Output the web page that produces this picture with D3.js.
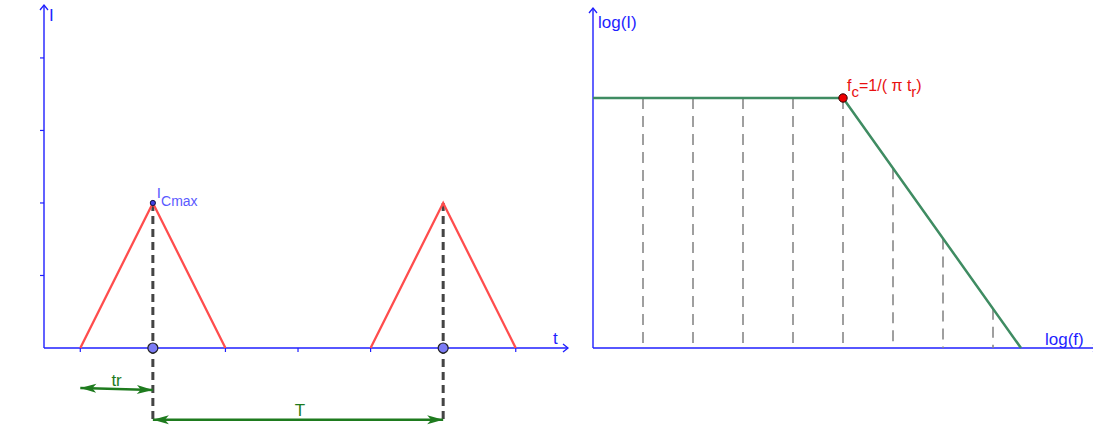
<!DOCTYPE html>
<html>
<head>
<meta charset="utf-8">
<script src="https://cdn.jsdelivr.net/npm/d3@7"></script>
<style>
  html, body { margin: 0; padding: 0; background: #fff; }
  svg { display: block; font-family: "Liberation Sans", Arial, sans-serif; }
</style>
</head>
<body>
<div id="chart"></div>
<script>
// --- data (left: time domain, units = tick spacing) ---
const pulseTimes = [0.5, 1.5, 2.5];          // rise start, peak, fall end
const pulseLevels = [0, 2, 0];
const pulseOffsets = [0, 4];                 // two pulses, period T = 4
const tTicks = [0.5, 1.5, 2.5, 3.5, 4.5, 5.5, 6.5];
const iTicks = [1, 2, 3, 4];
const peakMarks = [1.5, 5.5];                // dots on t axis under peaks
const trArrow = [[0.5, -0.55], [1.5, -0.58]];
const TArrow = [[1.5, -0.99], [5.5, -0.99]];

// --- data (right: spectrum, units = decades) ---
const specFlat = [[0, 5], [5, 5]];
const specRoll = [[5, 5], [8.56, 0]];
const decades = [1, 2, 3, 4, 5, 6, 7, 8];
const cornerDecade = 5;

const W = 1093, H = 433;
const svg = d3.select("#chart").append("svg").attr("width", W).attr("height", H);

const blue = "#1f1fff";
const green = "#1e7b1e";

function axisArrow(g, x, y, dir) {
  // open chevron arrow like the GeoGebra axes
  const p = dir === "up"
    ? `M${x - 4},${y + 5} L${x},${y} L${x + 4},${y + 5}`
    : `M${x - 5},${y - 4} L${x},${y} L${x - 5},${y + 4}`;
  g.append("path").attr("d", p).attr("fill", "none").attr("stroke", blue).attr("stroke-width", 1.3);
}

// filled arrow head with its tip at (x1,y1), pointing away from (x0,y0)
function head(g, x0, y0, x1, y1) {
  const a = Math.atan2(y1 - y0, x1 - x0);
  const L = 16, w = 4.5;
  const bx = x1 - L * Math.cos(a), by = y1 - L * Math.sin(a);
  const mx = x1 - (L - 4) * Math.cos(a), my = y1 - (L - 4) * Math.sin(a);
  const px = -Math.sin(a) * w, py = Math.cos(a) * w;
  g.append("path")
    .attr("d", `M${x1},${y1} L${bx + px},${by + py} L${mx},${my} L${bx - px},${by - py} Z`)
    .attr("fill", green);
}

// ================= LEFT CHART =================
const xL = d3.scaleLinear().domain([0, 7.22]).range([44, 568]);
const yL = d3.scaleLinear().domain([0, 4.73]).range([348, 5]);
const gL = svg.append("g");

// axes
gL.append("line").attr("x1", xL(0)).attr("x2", xL(7.22)).attr("y1", yL(0)).attr("y2", yL(0))
  .attr("stroke", blue).attr("stroke-width", 1.4);
gL.append("line").attr("x1", xL(0)).attr("x2", xL(0)).attr("y1", yL(0)).attr("y2", yL(4.73))
  .attr("stroke", blue).attr("stroke-width", 1.4);
axisArrow(gL, xL(7.22), yL(0), "right");
axisArrow(gL, xL(0), yL(4.73), "up");
gL.selectAll(".tt").data(tTicks).enter().append("line")
  .attr("x1", d => xL(d)).attr("x2", d => xL(d)).attr("y1", yL(0)).attr("y2", yL(0) + 4)
  .attr("stroke", blue).attr("stroke-width", 1.2);
gL.selectAll(".it").data(iTicks).enter().append("line")
  .attr("x1", xL(0) - 4).attr("x2", xL(0)).attr("y1", d => yL(d)).attr("y2", d => yL(d))
  .attr("stroke", blue).attr("stroke-width", 1.2);
gL.append("text").attr("x", xL(0) + 5).attr("y", 21).attr("fill", blue).attr("font-size", 17).text("I");
gL.append("text").attr("x", 553).attr("y", 344).attr("fill", blue).attr("font-size", 17).text("t");

// dashed verticals from peaks to T arrow
gL.selectAll(".pv").data(peakMarks).enter().append("line")
  .attr("x1", d => xL(d)).attr("x2", d => xL(d))
  .attr("y1", yL(2)).attr("y2", yL(-0.99))
  .attr("stroke", "#444").attr("stroke-width", 3).attr("stroke-dasharray", "8,5");

// triangle pulses
const line = d3.line().x(d => xL(d[0])).y(d => yL(d[1]));
pulseOffsets.forEach(off => {
  const pts = pulseTimes.map((t, i) => [t + off, pulseLevels[i]]);
  gL.append("path").attr("d", line(pts)).attr("fill", "none")
    .attr("stroke", "#ff4d4d").attr("stroke-width", 2.3).attr("stroke-linejoin", "miter");
});

// peak point + label
gL.append("circle").attr("cx", xL(1.5)).attr("cy", yL(2)).attr("r", 2.6)
  .attr("fill", "#4040e0").attr("stroke", "#101040").attr("stroke-width", 1);
const pl = gL.append("text").attr("x", xL(1.5) + 4).attr("y", yL(2) - 5)
  .attr("fill", "#5a5aff").attr("font-size", 15);
pl.append("tspan").text("I");
pl.append("tspan").attr("dy", 8).attr("font-size", 14).text("Cmax");

// dots on t axis
gL.selectAll(".pd").data(peakMarks).enter().append("circle")
  .attr("cx", d => xL(d)).attr("cy", yL(0)).attr("r", 5)
  .attr("fill", "#7b7bf5").attr("stroke", "#222").attr("stroke-width", 1.2);

// tr and T arrows
[trArrow, TArrow].forEach(a => {
  const x0 = xL(a[0][0]), y0 = yL(a[0][1]), x1 = xL(a[1][0]), y1 = yL(a[1][1]);
  gL.append("line").attr("x1", x0).attr("y1", y0).attr("x2", x1).attr("y2", y1)
    .attr("stroke", green).attr("stroke-width", 2.5);
  head(gL, x0, y0, x1, y1);
  head(gL, x1, y1, x0, y0);
});
gL.append("text").attr("x", xL(1.0)).attr("y", 386).attr("text-anchor", "middle")
  .attr("fill", green).attr("font-size", 17).text("tr");
gL.append("text").attr("x", xL(3.5) + 2).attr("y", 416).attr("text-anchor", "middle")
  .attr("fill", green).attr("font-size", 17).text("T");

// ================= RIGHT CHART =================
const xR = d3.scaleLinear().domain([0, 10.1]).range([593, 1098]);
const yR = d3.scaleLinear().domain([0, 6.8]).range([348, 8]);
const gR = svg.append("g");

gR.append("line").attr("x1", xR(0)).attr("x2", xR(10.1)).attr("y1", yR(0)).attr("y2", yR(0))
  .attr("stroke", blue).attr("stroke-width", 1.4);
gR.append("line").attr("x1", xR(0)).attr("x2", xR(0)).attr("y1", yR(0)).attr("y2", yR(6.8))
  .attr("stroke", blue).attr("stroke-width", 1.4);
axisArrow(gR, xR(10.1), yR(0), "right");
axisArrow(gR, xR(0), yR(6.8), "up");
gR.append("text").attr("x", 598).attr("y", 28).attr("fill", blue).attr("font-size", 17).text("log(I)");
gR.append("text").attr("x", 1045).attr("y", 345).attr("fill", blue).attr("font-size", 17).text("log(f)");

// spectrum value at a decade (piecewise linear on the two segments)
function specAt(k) {
  if (k <= specFlat[1][0]) return specFlat[0][1];
  const [a, b] = specRoll;
  return a[1] + (b[1] - a[1]) * (k - a[0]) / (b[0] - a[0]);
}
gR.selectAll(".dv").data(decades).enter().append("line")
  .attr("x1", d => xR(d)).attr("x2", d => xR(d))
  .attr("y1", d => yR(specAt(d))).attr("y2", yR(0))
  .attr("stroke", "#888").attr("stroke-width", 1.6).attr("stroke-dasharray", "11,7");

const lineR = d3.line().x(d => xR(d[0])).y(d => yR(d[1]));
gR.append("path").attr("d", lineR(specFlat.concat([specRoll[1]]))).attr("fill", "none")
  .attr("stroke", "#3f8c62").attr("stroke-width", 2.5).attr("stroke-linejoin", "round");

gR.append("circle").attr("cx", xR(cornerDecade)).attr("cy", yR(specAt(cornerDecade))).attr("r", 4.2)
  .attr("fill", "#ee0000").attr("stroke", "#300").attr("stroke-width", 1);
const fl = gR.append("text").attr("x", xR(cornerDecade) + 4).attr("y", 91)
  .attr("fill", "#e81010").attr("font-size", 16);
fl.append("tspan").text("f");
fl.append("tspan").attr("dy", 6).attr("font-size", 15).text("c");
fl.append("tspan").attr("dy", -6).text("=1/( π t");
fl.append("tspan").attr("dy", 6).attr("font-size", 15).text("r");
fl.append("tspan").attr("dy", -6).text(")");
</script>
</body>
</html>
